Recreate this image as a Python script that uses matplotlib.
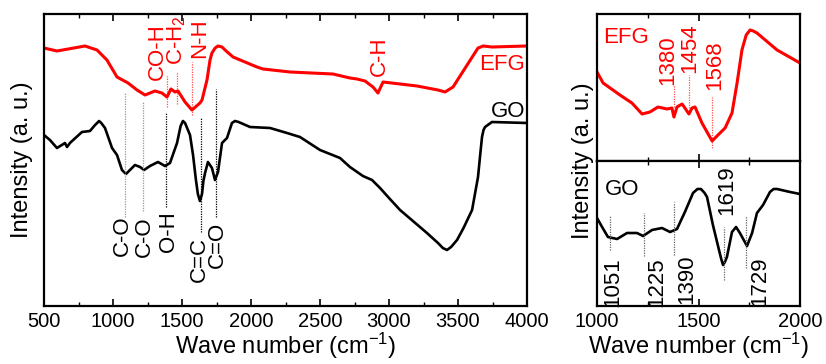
import matplotlib
matplotlib.use("Agg")
import matplotlib.pyplot as plt
from matplotlib.ticker import MultipleLocator

plt.rcParams['font.family'] = ['Liberation Sans', 'DejaVu Sans']
plt.rcParams['mathtext.fontset'] = 'custom'
plt.rcParams['mathtext.rm'] = 'Liberation Sans'
plt.rcParams['mathtext.it'] = 'Liberation Sans'

# ---------------- data (left panel: full range) ----------------
efg_wn = [500, 594, 797, 884, 956, 1029, 1109, 1174, 1232, 1304, 1355, 1391, 1420, 1449,
          1471, 1522, 1572, 1630, 1645, 1681, 1703, 1717, 1740, 1761, 1790, 1820, 1870,
          2043, 2087, 2283, 2594, 2717, 2768, 2826, 2884, 2920, 2957, 3203, 3355, 3406,
          3464, 3645, 3665, 3681, 3746, 4000]
efg_int = [258, 255, 260, 256, 246, 229, 223, 216, 211, 215, 213, 209, 217, 214,
           215, 204, 196, 203, 206, 226, 246, 253, 258, 260, 259, 255, 249,
           239, 237, 234, 232, 228, 227, 225, 219, 213, 224, 220, 216, 214,
           219, 258, 259, 260, 259, 260]

go_wn = [500, 543, 594, 652, 667, 688, 775, 833, 870, 885, 899, 915, 942, 993, 1029,
         1065, 1094, 1159, 1196, 1225, 1268, 1326, 1377, 1413, 1464, 1490, 1507, 1522,
         1543, 1558, 1580, 1601, 1615, 1630, 1645, 1655, 1667, 1688, 1717, 1739, 1761,
         1790, 1826, 1862, 1884, 1910, 1993, 2138, 2261, 2355, 2500, 2645, 2717, 2811,
         2877, 2935, 3000, 3080, 3275, 3355, 3390, 3420, 3450, 3493, 3540, 3602, 3645,
         3660, 3674, 3685, 3696, 3746, 4000]
go_int = [171, 166, 158, 163, 159, 163, 174, 175, 181, 183, 185, 183, 178, 158, 151,
          136, 132, 141, 139, 136, 140, 144, 140, 143, 163, 180, 185, 183,
          176, 171, 151, 126, 112, 105, 112, 125, 133, 144, 138, 126, 134,
          163, 168, 183, 185, 184, 179, 178, 173, 169, 156, 148, 139, 130,
          126, 118, 108, 96, 73, 63, 58, 56, 59, 66, 78, 96, 129,
          150, 169, 176, 179, 184, 183]

# band assignments, left panel
go_bands = [1085, 1215, 1385, 1635, 1745]
go_band_names = ['C-O', 'C-O', 'O-H', 'C=C', 'C=O']
efg_bands = [1393, 1467, 1576, 2920]
efg_band_names = ['CO-H', 'C-H$_2$', 'N-H', 'C-H']

# ---------------- data (right panels: 1000-2000) ----------------
efg_z_wn = [1000, 1030, 1113, 1172, 1222, 1261, 1300, 1345, 1369, 1379, 1394, 1419,
            1433, 1453, 1468, 1483, 1517, 1567, 1596, 1631, 1665, 1690, 1714, 1735,
            1754, 1770, 1788, 1887, 2000]
efg_z_int = [89, 78, 66, 58, 47, 49, 54, 52, 53, 44, 54, 57,
             53, 47, 53, 54, 38, 20, 26, 33, 48, 78, 111, 126,
             131, 130, 128, 111, 98]

go_z_wn = [1000, 1025, 1054, 1099, 1148, 1197, 1227, 1271, 1320, 1360, 1394, 1433,
           1473, 1495, 1512, 1530, 1542, 1571, 1601, 1612, 1621, 1630, 1640, 1665,
           1685, 1704, 1739, 1764, 1788, 1818, 1852, 1870, 1887, 1951, 2000]
go_z_int = [88, 79, 69, 67, 73, 73, 70, 76, 78, 74, 77, 94,
            113, 117, 117, 113, 109, 81, 56, 47, 41, 44, 49, 74,
            79, 73, 60, 73, 93, 101, 114, 117, 117, 114, 112]

efg_peaks = [1380, 1454, 1568]
efg_peak_labels = ['1380', '1454', '1568']
go_peaks = [1062, 1232, 1380, 1626, 1734]
go_peak_labels = ['1051', '1225', '1390', '1619', '1729']

# ---------------- figure ----------------
fig = plt.figure(figsize=(8.26, 3.64), dpi=100)
RED = '#ff0000'
TICK_FS = 14.5
LAB_FS = 17
ANN_FS = 16


def style_axis(ax, major, minor):
    ax.xaxis.set_major_locator(MultipleLocator(major))
    ax.xaxis.set_minor_locator(MultipleLocator(minor))
    ax.tick_params(axis='x', which='major', direction='in', length=5, width=1.2,
                   top=True, bottom=True, labelsize=TICK_FS, pad=4)
    ax.tick_params(axis='x', which='minor', direction='in', length=3, width=1.0,
                   top=True, bottom=True)
    ax.tick_params(axis='y', left=False, right=False, labelleft=False)
    for s in ax.spines.values():
        s.set_linewidth(1.6)


# left panel
ax = fig.add_axes([44 / 826, 58 / 364, 483 / 826, 292 / 364])
ax.plot(efg_wn, efg_int, color=RED, lw=2.2, solid_joinstyle='round')
ax.plot(go_wn, go_int, color='black', lw=1.9, solid_joinstyle='round')
ax.set_xlim(500, 4000)
ax.set_ylim(0, 292)
style_axis(ax, 500, 250)
ax.set_xlabel('Wave number (cm$^{-1}$)', fontsize=LAB_FS, labelpad=0)
ax.set_ylabel('Intensity (a. u.)', fontsize=LAB_FS, labelpad=8)

go_line_top = [214, 204, 194, 189, 217]
go_line_bot = [89, 95, 99, 74, 89]
go_line_col = ['#999999', '#999999', 'black', 'black', 'black']
go_lab_x = [1065, 1225, 1399, 1623, 1754]
go_lab_y = [91, 90, 95, 69, 84]
for b, t, bt, c, lx, ly, name in zip(go_bands, go_line_top, go_line_bot, go_line_col,
                                     go_lab_x, go_lab_y, go_band_names):
    ax.plot([b, b], [bt, t], color=c, lw=0.9, ls=(0, (1, 1)))
    ax.text(lx, ly, name, rotation=90, ha='center', va='top', fontsize=ANN_FS)

efg_line_top = [230, 234, 244]
efg_line_bot = [199, 202, 191]
for b, t, bt in zip(efg_bands[:3], efg_line_top, efg_line_bot):
    ax.plot([b, b], [bt, t], color=RED, lw=0.9, ls=(0, (1, 1)), alpha=0.7)
efg_lab_x = [1319, 1460, 1630, 2927]
efg_lab_y = [226, 241, 248, 230]
for lx, ly, name in zip(efg_lab_x, efg_lab_y, efg_band_names):
    ax.text(lx, ly, name, rotation=90, ha='center', va='bottom', fontsize=ANN_FS,
            color=RED)
ax.text(3985, 236, 'EFG', color=RED, ha='right', va='baseline', fontsize=ANN_FS)
ax.text(3985, 189, 'GO', color='black', ha='right', va='baseline', fontsize=ANN_FS)

# right top (EFG)
ax1 = fig.add_axes([597 / 826, 203 / 364, 203 / 826, 147 / 364])
ax1.plot(efg_z_wn, efg_z_int, color=RED, lw=2.2, solid_joinstyle='round')
ax1.set_xlim(1000, 2000)
ax1.set_ylim(0, 147)
style_axis(ax1, 500, 250)
ax1.tick_params(axis='x', which='both', labelbottom=False)
ef_top = [76, 86, 64]
ef_bot = [54, 53, 13]
ef_lab_x = [1350, 1458, 1581]
ef_lab_y = [76, 88, 71]
for p, t, bt, lx, ly, name in zip(efg_peaks, ef_top, ef_bot, ef_lab_x, ef_lab_y,
                                  efg_peak_labels):
    ax1.plot([p, p], [bt, t], color=RED, lw=0.9, ls=(0, (1, 1)), alpha=0.7)
    ax1.text(lx, ly, name, rotation=90, ha='center', va='bottom', fontsize=ANN_FS,
             color=RED)
ax1.text(1030, 118, 'EFG', color=RED, ha='left', va='baseline', fontsize=ANN_FS)

# right bottom (GO)
ax2 = fig.add_axes([597 / 826, 58 / 364, 203 / 826, 145 / 364])
ax2.plot(go_z_wn, go_z_int, color='black', lw=1.9, solid_joinstyle='round')
ax2.set_xlim(1000, 2000)
ax2.set_ylim(0, 145)
style_axis(ax2, 500, 250)
ax2.set_xlabel('Wave number (cm$^{-1}$)', fontsize=LAB_FS, labelpad=0)
go_top = [90, 93, 104, 79, 90]
go_bot = [56, 50, 51, 26, 38]
go_lx = [1079, 1296, 1443, 1640, 1803]
go_ly = [49, 49, 52, 91, 50]
go_va = ['top', 'top', 'top', 'bottom', 'top']
for p, t, bt, lx, ly, va, name in zip(go_peaks, go_top, go_bot, go_lx, go_ly, go_va,
                                      go_peak_labels):
    ax2.plot([p, p], [bt, t], color='#666666', lw=0.9, ls=(0, (1, 1)))
    ax2.text(lx, ly, name, rotation=90, ha='center', va=va, fontsize=ANN_FS)
ax2.text(1039, 111, 'GO', color='black', ha='left', va='baseline', fontsize=ANN_FS)

fig.text(583 / 826, 203 / 364, 'Intensity (a. u.)', rotation=90, ha='center',
         va='center', fontsize=LAB_FS)

fig.savefig('out.png', dpi=100)
